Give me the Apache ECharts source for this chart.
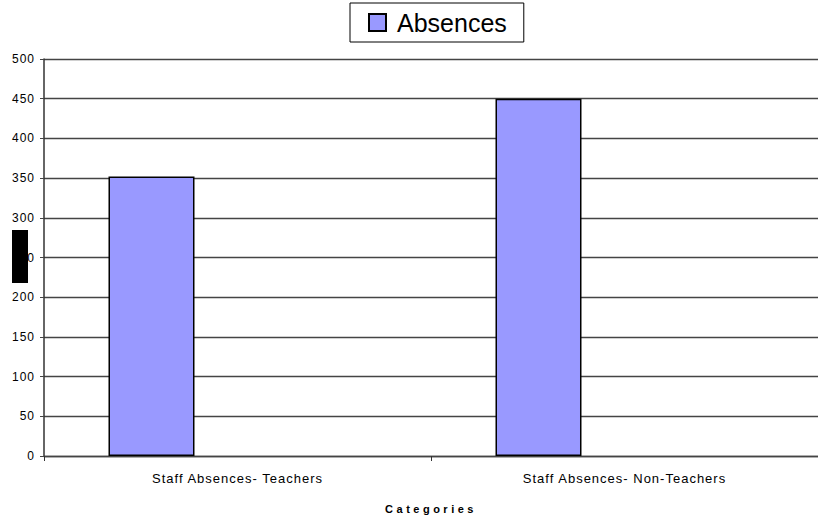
<!DOCTYPE html>
<html>
<head>
<meta charset="utf-8">
<script src="https://cdn.jsdelivr.net/npm/echarts@6/dist/echarts.min.js"></script>
<style>html,body{margin:0;padding:0;background:#fff;}#c{width:818px;height:519px;}</style>
</head>
<body>
<div id="c"></div>
<script>
const categories = ['Staff Absences- Teachers', 'Staff Absences- Non-Teachers'];
const absences = [352, 450];
const yTicks = { min: 0, max: 500, interval: 50 };
const seriesName = 'Absences';
const xAxisTitle = 'Categories';

const chart = echarts.init(document.getElementById('c'), null, { renderer: 'svg' });
chart.setOption({
  animation: false,
  backgroundColor: '#fff',
  textStyle: { fontFamily: 'Liberation Sans, Arial, sans-serif' },
  legend: {
    data: [seriesName],
    left: 350, top: 3,
    padding: [7, 17, 7, 18],
    borderColor: '#000', borderWidth: 1,
    itemWidth: 17, itemHeight: 17,
    icon: 'rect',
    textStyle: { fontSize: 25, color: '#000', padding: [0, 0, 0, 6], fontFamily: 'Liberation Sans, Arial, sans-serif' },
    itemStyle: { borderColor: '#000', borderWidth: 2 }
  },
  grid: { left: 44, top: 59, width: 776, height: 398, containLabel: false },
  xAxis: {
    type: 'category',
    data: categories,
    axisLine: { lineStyle: { color: '#444', width: 1.3 } },
    axisTick: { show: true, length: 5, lineStyle: { color: '#333' } },
    axisLabel: { fontSize: 13, color: '#000', margin: 16 },
    name: xAxisTitle,
    nameLocation: 'middle',
    nameGap: 47,
    nameTextStyle: { fontSize: 11, fontWeight: 'bold', color: '#000' }
  },
  yAxis: {
    type: 'value',
    min: yTicks.min, max: yTicks.max, interval: yTicks.interval,
    axisLine: { show: true, lineStyle: { color: '#333', width: 1.5 } },
    axisTick: { show: true, length: 4, lineStyle: { color: '#444' } },
    axisLabel: { fontSize: 12, color: '#000', margin: 9 },
    splitLine: { lineStyle: { color: '#444', width: 1.3 } }
  },
  series: [
    {
      name: seriesName, type: 'bar', data: absences,
      barGap: '0%', barCategoryGap: '33.33%',
      itemStyle: { color: '#9999FF', borderColor: '#000', borderWidth: 1.5 }
    },
    { name: 's2', type: 'bar', data: [null, null] },
    { name: 's3', type: 'bar', data: [null, null] }
  ],
  graphic: [
    { type: 'rect', shape: { x: 12, y: 230, width: 16, height: 53 }, style: { fill: '#000' }, z: 100 }
  ]
});

function applySpacing() {
  const texts = document.querySelectorAll('#c svg text');
  texts.forEach(t => {
    const s = t.textContent;
    if (categories.indexOf(s) >= 0) t.style.letterSpacing = '1px';
    else if (s === xAxisTitle) t.style.letterSpacing = '3.5px';
    else if (/^\d+$/.test(s)) t.style.letterSpacing = '1px';
  });
}
chart.on('finished', applySpacing);
setTimeout(applySpacing, 50);
</script>
</body>
</html>
